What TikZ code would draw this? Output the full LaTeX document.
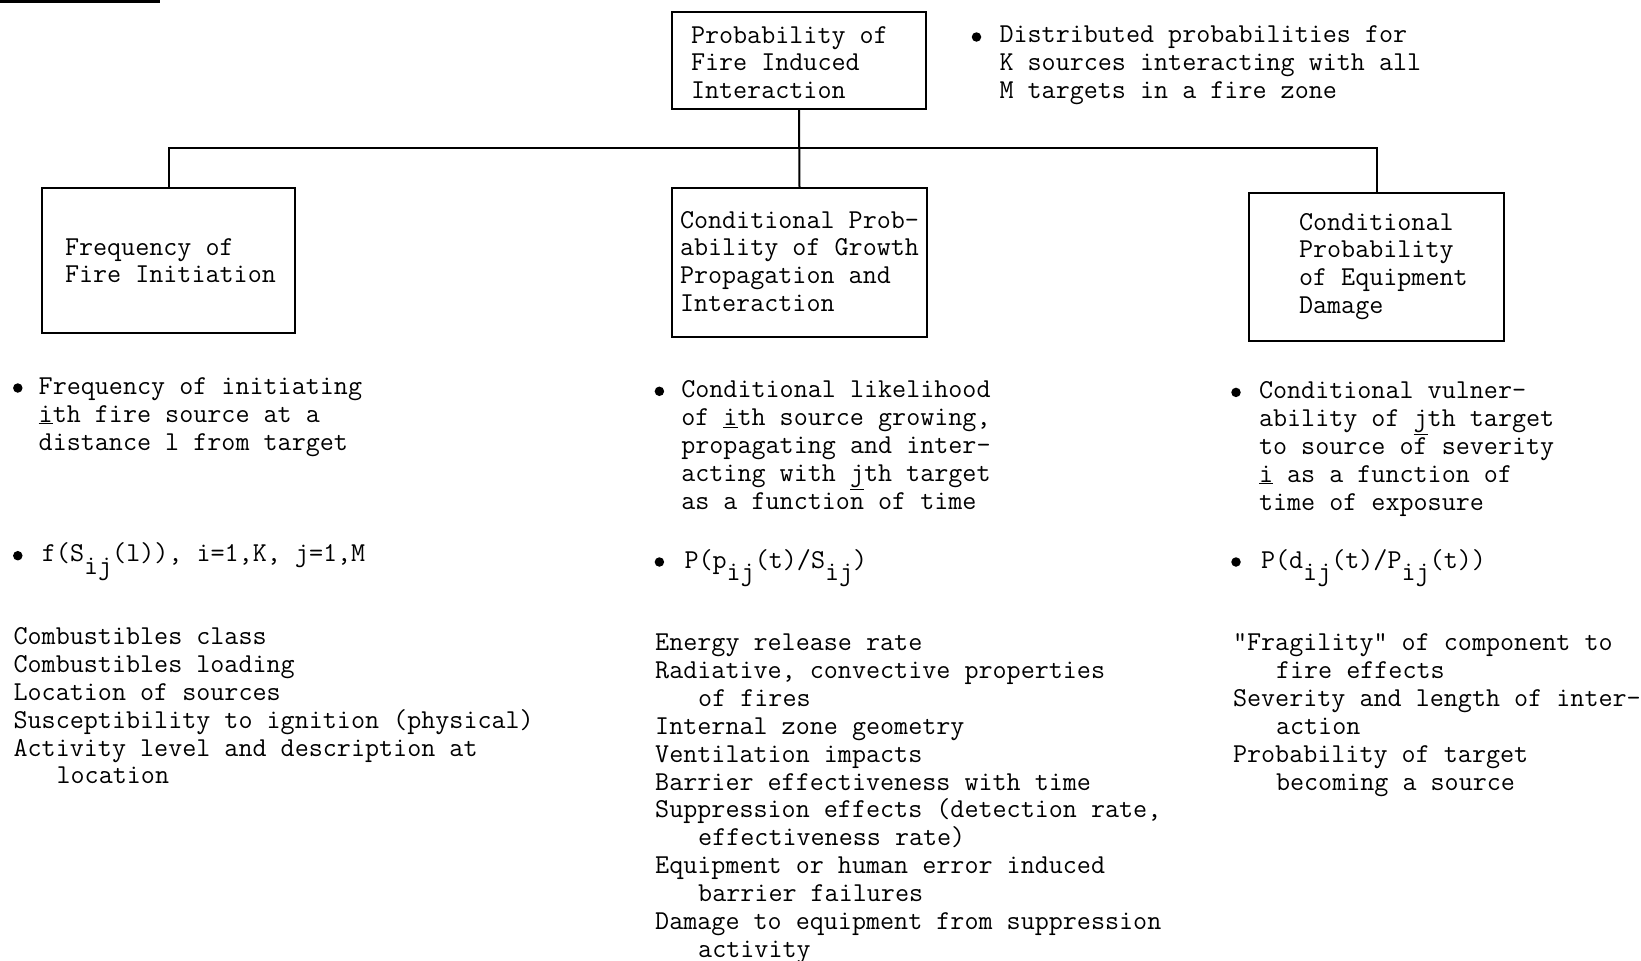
\documentclass[tikz,border=0pt]{standalone}
\newcommand\lowidx[1]{\raisebox{-0.46em}{#1}}
\newcommand\ind{\hspace*{1.575em}}
\begin{document}
% every text block is placed by the baseline of its last line
\begin{tikzpicture}[x=1pt,y=-1pt,
  every node/.style={inner sep=0pt, outer sep=0pt},
  typed/.style={font=\fontsize{27.3}{27.85}\selectfont\ttfamily, align=left, anchor=base west, yshift=-3pt},
  frame/.style={draw, line width=2.4pt, rectangle, anchor=north west},
  dot/.style={circle, fill, minimum size=9.5pt, yshift=-2pt},
  link/.style={line width=2pt}]
\useasboundingbox (0,0) rectangle (1641,961);

% stray rule at the head of the page
\draw[line width=2.5pt] (0,1.5) -- (160,1.5);

% boxes
\node[frame, minimum width=254pt, minimum height=97pt]  (topbox)   at (672,12)  {};
\node[frame, minimum width=253pt, minimum height=145pt] (leftbox)  at (42,188)  {};
\node[frame, minimum width=255pt, minimum height=149pt] (midbox)   at (672,188) {};
\node[frame, minimum width=255pt, minimum height=148pt] (rightbox) at (1249,193) {};

% box titles
\node[typed] (toplbl)   at (691,95.7)    {Probability of\\Fire Induced\\Interaction};
\node[typed] (leftlbl)  at (65,279.85)   {Frequency of\\Fire Initiation};
\node[typed] (midlbl)   at (680,308.55)  {Conditional Prob-\\ability of Growth\\Propagation and\\Interaction};
\node[typed] (rightlbl) at (1299,310.55) {Conditional\\Probability\\of Equipment\\Damage};

% connectors
\coordinate (bus) at (0,148);
\draw[link] (topbox.south) -- (midbox.north);
\draw[link] (leftbox.north) -- (leftbox.north |- bus) -- (rightbox.north |- bus) -- (rightbox.north);

% note beside the top box
\node[dot] (dtop) at (976.5,35) {};
\node[typed] (toptxt) at (999.5,95.5) {Distributed probabilities for\\K sources interacting with all\\M targets in a fire zone};

% left column
\node[dot] (dl1) at (17.8,386) {};
\node[typed] (l1) at (38.7,447.1) {Frequency of initiating\\\underline{i}th fire source at a\\distance l from target};
\node[dot] (dl2) at (17.8,553.7) {};
\node[typed] (l2) at (41.9,558.9) {f(S\lowidx{ij}(l)), i=1,K, j=1,M};
\node[typed] (l3) at (13.6,780.85) {Combustibles class\\Combustibles loading\\Location of sources\\Susceptibility to ignition (physical)\\Activity level and description at\\\ind location};

% middle column
\node[dot] (dm1) at (659.4,389.3) {};
\node[typed] (m1) at (681.3,506.0) {Conditional likelihood\\of \underline{i}th source growing,\\propagating and inter-\\acting with \underline{j}th target\\as a function of time};
\node[dot] (dm2) at (659.4,560) {};
\node[typed] (m2) at (684.5,565.2) {P(p\lowidx{ij}(t)/S\lowidx{ij})};
\node[typed] (m3) at (655.2,954.15) {Energy release rate\\Radiative, convective properties\\\ind of fires\\Internal zone geometry\\Ventilation impacts\\Barrier effectiveness with time\\Suppression effects (detection rate,\\\ind effectiveness rate)\\Equipment or human error induced\\\ind barrier failures\\Damage to equipment from suppression\\\ind activity};

% right column
\node[dot] (dr1) at (1236,390.4) {};
\node[typed] (r1) at (1259,507.0) {Conditional vulner-\\ability of \underline{j}th target\\to source of severity\\\underline{i} as a function of\\time of exposure};
\node[dot] (dr2) at (1236,560) {};
\node[typed] (r2) at (1261,565.2) {P(d\lowidx{ij}(t)/P\lowidx{ij}(t))};
\node[typed] (r3) at (1233,787.05) {"Fragility" of component to\\\ind fire effects\\Severity and length of inter-\\\ind action\\Probability of target\\\ind becoming a source};
\end{tikzpicture}
\end{document}
